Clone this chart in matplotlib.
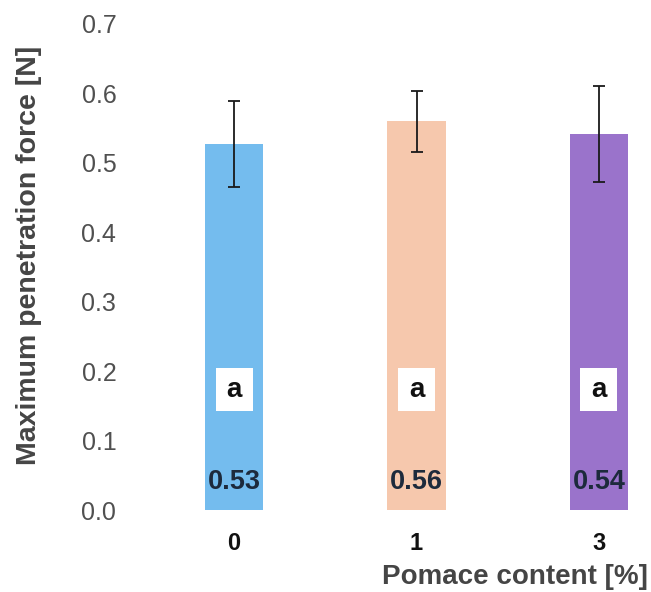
import matplotlib
matplotlib.use("Agg")
import matplotlib.pyplot as plt
from matplotlib.patches import Rectangle

plt.rcParams['font.family'] = ['Liberation Sans', 'DejaVu Sans']

categories = ["0", "1", "3"]
means = [0.527, 0.560, 0.542]
sds = [0.062, 0.044, 0.069]
value_labels = ["0.53", "0.56", "0.54"]
letters = ["a", "a", "a"]
colors = ["#74bcee", "#f6c8ad", "#9a73cb"]

fig = plt.figure(figsize=(6.51, 5.92), dpi=100)
ax = fig.add_axes([0.20, 0.1385, 0.79, 0.821])

x = list(range(len(categories)))
ax.bar(x, means, width=0.32, color=colors, zorder=2)
ax.errorbar(x, means, yerr=sds, fmt="none", ecolor="#1a1a1a",
            elinewidth=1.3, capsize=4.5, capthick=1.3, zorder=3)

letter_y = 0.173
for xi, lab, let in zip(x, value_labels, letters):
    ax.text(xi, 0.040, lab, ha="center", va="center", fontsize=19.5,
            fontweight="bold", color="#1d2a3c", zorder=4)
    ax.add_patch(Rectangle((xi - 0.102, letter_y - 0.031), 0.204, 0.062,
                           facecolor="white", edgecolor="none", zorder=4))
    ax.text(xi, letter_y, let, ha="center", va="center", fontsize=20,
            fontweight="bold", color="#111111", zorder=5)

ax.set_xlim(-0.57, 2.25)
ax.set_ylim(0, 0.7)
ax.set_yticks([0.0, 0.1, 0.2, 0.3, 0.4, 0.5, 0.6, 0.7])
ax.set_yticklabels(["0.0", "0.1", "0.2", "0.3", "0.4", "0.5", "0.6", "0.7"])
ax.set_xticks(x)
ax.set_xticklabels(categories, fontweight="bold")

for s in ax.spines.values():
    s.set_visible(False)
ax.tick_params(axis="both", length=0)
ax.tick_params(axis="y", labelsize=18, labelcolor="#505050", pad=10)
ax.tick_params(axis="x", labelsize=17, labelcolor="#111111", pad=16)

ax.set_ylabel("Maximum penetration force [N]", fontsize=20.5, fontweight="bold",
              color="#454545")
ax.yaxis.label.set_verticalalignment("center")
ax.yaxis.set_label_coords(-0.196, 0.523)
ax.set_xlabel("Pomace content [%]", fontsize=20, fontweight="bold",
              color="#454545", loc="right")
ax.xaxis.label.set_verticalalignment("center")
ax.xaxis.set_label_coords(1.007, -0.138)

fig.savefig("out.png", dpi=100)
